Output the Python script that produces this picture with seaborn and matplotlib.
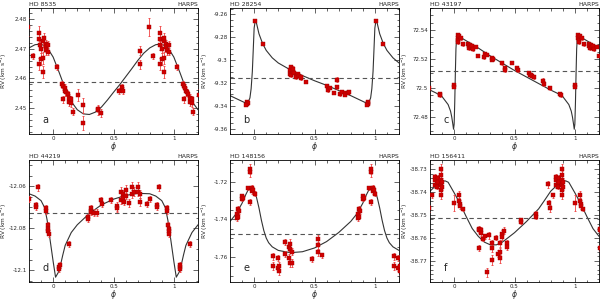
import numpy as np
import matplotlib
matplotlib.use("Agg")
from matplotlib import pyplot as plt
from matplotlib.ticker import MultipleLocator, FuncFormatter
import seaborn as sns

# ---- panel a : HD 8535 ----
a_phase = [0.03, 0.076, 0.08, 0.08, 0.095, 0.097, 0.108, 0.12, 0.135, 0.135, 0.149, 0.149,
           0.162, 0.21, 0.25, 0.25, 0.37, 0.372, 0.40, 0.546, 0.573, 0.575, 0.72, 0.72,
           0.79, 0.83, 0.884, 0.886, 0.884, 0.888, 0.90, 0.90, 0.918, 0.918, 0.92, 0.922,
           0.938, 0.938, 0.94, 0.958, 0.96]
a_rv = [2.4639, 2.4580, 2.4573, 2.4530, 2.4568, 2.4557, 2.4553, 2.4548, 2.4521, 2.4535, 2.4517, 2.4530,
        2.4487, 2.4543, 2.4509, 2.4449, 2.4492, 2.4498, 2.4483, 2.4558, 2.4570, 2.4558, 2.4693, 2.4648,
        2.4773, 2.4675, 2.4753, 2.4732, 2.4650, 2.4712, 2.4700, 2.4665, 2.4725, 2.4622, 2.4670, 2.4735,
        2.4715, 2.4705, 2.4695, 2.4712, 2.4690]
a_err = [0.0010, 0.0012, 0.0012, 0.0012, 0.0012, 0.0015, 0.0012, 0.0010, 0.0015, 0.0012, 0.0015, 0.0010,
         0.0012, 0.0020, 0.0025, 0.0025, 0.0015, 0.0012, 0.0015, 0.0010, 0.0012, 0.0012, 0.0015, 0.0015,
         0.0030, 0.0010, 0.0025, 0.0020, 0.0020, 0.0015, 0.0015, 0.0020, 0.0020, 0.0020, 0.0020, 0.0020,
         0.0015, 0.0015, 0.0015, 0.0015, 0.0012]
a_fit_phase = [0.0, 0.05, 0.1, 0.15, 0.2, 0.25, 0.3, 0.35, 0.4, 0.45, 0.5, 0.55, 0.6, 0.65, 0.7,
               0.75, 0.8, 0.85, 0.9, 0.95]
a_fit_rv = [2.4672, 2.4620, 2.4565, 2.4522, 2.4494, 2.4480, 2.4478, 2.4486, 2.4503, 2.4527, 2.4553,
            2.4578, 2.4605, 2.4632, 2.4660, 2.4685, 2.4703, 2.4714, 2.4716, 2.4705]
a_gamma = 2.4588

# ---- panel b : HD 28254 ----
b_phase = [0.94, 0.94, 0.945, 0.935, 0.01, 0.07, 0.30, 0.30, 0.302, 0.305, 0.32, 0.325, 0.33, 0.345,
           0.35, 0.36, 0.375, 0.385, 0.39, 0.43, 0.60, 0.61, 0.63, 0.66, 0.685, 0.687, 0.71, 0.73,
           0.75, 0.755, 0.775, 0.785]
b_rv = [-9.3365, -9.3385, -9.3375, -9.3390, -9.2655, -9.2860, -9.3090, -9.3120, -9.3060, -9.3130,
        -9.3100, -9.3075, -9.3110, -9.3135, -9.3150, -9.3125, -9.3140, -9.3160, -9.3150, -9.3190,
        -9.3225, -9.3265, -9.3240, -9.3290, -9.3170, -9.3235, -9.3300, -9.3275, -9.3290, -9.3305,
        -9.3285, -9.3280]
b_err = [0.0010, 0.0010, 0.0010, 0.0010, 0.0012, 0.0010, 0.0020, 0.0015, 0.0020, 0.0015, 0.0015,
         0.0020, 0.0012, 0.0015, 0.0012, 0.0015, 0.0012, 0.0012, 0.0012, 0.0010, 0.0012, 0.0012,
         0.0010, 0.0010, 0.0020, 0.0015, 0.0010, 0.0012, 0.0012, 0.0010, 0.0010, 0.0010]
b_fit_phase = [0.0, 0.01, 0.02, 0.04, 0.07, 0.1, 0.15, 0.2, 0.3, 0.4, 0.5, 0.6, 0.7, 0.8, 0.88,
               0.93, 0.95, 0.965, 0.975, 0.985, 0.993]
b_fit_rv = [-9.272, -9.265, -9.268, -9.277, -9.2855, -9.2915, -9.298, -9.3025, -9.3085, -9.3135,
            -9.318, -9.322, -9.3265, -9.331, -9.335, -9.3375, -9.337, -9.333, -9.325, -9.310, -9.290]
b_gamma = -9.316

# ---- panel c : HD 43197 ----
c_phase = [0.88, 0.882, 0.0, 0.002, 0.03, 0.03, 0.032, 0.035, 0.04, 0.06, 0.075, 0.115, 0.12, 0.125,
           0.13, 0.14, 0.15, 0.155, 0.18, 0.2, 0.25, 0.255, 0.27, 0.31, 0.315, 0.325, 0.40, 0.42,
           0.425, 0.48, 0.52, 0.53, 0.62, 0.63, 0.64, 0.645, 0.66, 0.74, 0.745, 0.79]
c_rv = [72.4956, 72.4948, 72.5018, 72.5008, 72.5367, 72.5345, 72.5330, 72.5315, 72.5360, 72.5345,
        72.5300, 72.5300, 72.5290, 72.5275, 72.5295, 72.5285, 72.5287, 72.5268, 72.5282, 72.5220,
        72.5210, 72.5232, 72.5228, 72.5205, 72.5195, 72.5198, 72.5170, 72.5135, 72.5125, 72.5175,
        72.5135, 72.5122, 72.5100, 72.5092, 72.5090, 72.5080, 72.5075, 72.5046, 72.5030, 72.5000]
c_err = [0.0010, 0.0010, 0.0012, 0.0010, 0.0015, 0.0015, 0.0015, 0.0015, 0.0012, 0.0012, 0.0012,
         0.0012, 0.0012, 0.0015, 0.0012, 0.0012, 0.0012, 0.0012, 0.0010, 0.0010, 0.0010, 0.0012,
         0.0010, 0.0012, 0.0010, 0.0010, 0.0010, 0.0012, 0.0012, 0.0012, 0.0010, 0.0010, 0.0012,
         0.0012, 0.0010, 0.0012, 0.0012, 0.0025, 0.0020, 0.0012]
c_fit_phase = [0.0, 0.005, 0.01, 0.015, 0.02, 0.03, 0.1, 0.2, 0.3, 0.4, 0.5, 0.6, 0.7, 0.8, 0.85,
               0.9, 0.95, 0.97, 0.98, 0.99, 0.995]
c_fit_rv = [72.475, 72.490, 72.510, 72.527, 72.534, 72.536, 72.5325, 72.5275, 72.522, 72.517,
            72.512, 72.5075, 72.503, 72.4985, 72.4965, 72.494, 72.4885, 72.484, 72.480, 72.4745,
            72.4715]
c_gamma = 72.5116

# ---- panel d : HD 44219 ----
d_phase = [0.86, 0.862, 0.875, 0.94, 0.942, 0.955, 0.957, 0.96, 0.962, 0.05, 0.052, 0.055, 0.13,
           0.29, 0.292, 0.31, 0.312, 0.315, 0.34, 0.36, 0.40, 0.402, 0.48, 0.53, 0.532, 0.56,
           0.562, 0.58, 0.582, 0.585, 0.60, 0.602, 0.63, 0.65, 0.652, 0.67, 0.70, 0.702, 0.72,
           0.722, 0.78, 0.80]
d_rv = [-12.0690, -12.0698, -12.0605, -12.0705, -12.0715, -12.0785, -12.0805, -12.0815, -12.0825,
        -12.0985, -12.0995, -12.0975, -12.0875, -12.0745, -12.0755, -12.0705, -12.0715, -12.0720,
        -12.0725, -12.0725, -12.0665, -12.0685, -12.0665, -12.0695, -12.0705, -12.0625, -12.0665,
        -12.0635, -12.0655, -12.0675, -12.0615, -12.0645, -12.0680, -12.0605, -12.0635, -12.0625,
        -12.0625, -12.0605, -12.0635, -12.0675, -12.0685, -12.0660]
d_err = [0.0015, 0.0015, 0.0015, 0.0015, 0.0015, 0.0015, 0.0015, 0.0015, 0.0015, 0.0015, 0.0015,
         0.0015, 0.0015, 0.0015, 0.0015, 0.0015, 0.0015, 0.0015, 0.0015, 0.0015, 0.0015, 0.0015,
         0.0015, 0.0020, 0.0015, 0.0020, 0.0020, 0.0020, 0.0015, 0.0015, 0.0020, 0.0015, 0.0020,
         0.0025, 0.0020, 0.0020, 0.0020, 0.0025, 0.0020, 0.0020, 0.0015, 0.0015]
d_fit_phase = [0.0, 0.02, 0.05, 0.08, 0.1, 0.15, 0.2, 0.3, 0.4, 0.5, 0.6, 0.7, 0.8, 0.85, 0.9,
               0.93, 0.95, 0.97]
d_fit_rv = [-12.0958, -12.1033, -12.1003, -12.0927, -12.0881, -12.0820, -12.0783, -12.0729,
            -12.0688, -12.0661, -12.0643, -12.0633, -12.0635, -12.0646, -12.0668, -12.0702,
            -12.0760, -12.0836]
d_gamma = -12.0729

# ---- panel e : HD 148156 ----
e_phase = [0.857, 0.857, 0.87, 0.87, 0.878, 0.90, 0.90, 0.91, 0.95, 0.965, 0.965, 0.965, 0.985,
           0.985, 0.99, 0.005, 0.16, 0.16, 0.195, 0.195, 0.21, 0.21, 0.255, 0.255, 0.285, 0.285,
           0.295, 0.295, 0.295, 0.31, 0.31, 0.48, 0.53, 0.53, 0.53, 0.56]
e_rv = [-1.7370, -1.7395, -1.7344, -1.7386, -1.7355, -1.7276, -1.7293, -1.7285, -1.7234, -1.7132,
        -1.7149, -1.7310, -1.7234, -1.7250, -1.7243, -1.7264, -1.7598, -1.7649, -1.7607, -1.7658,
        -1.7675, -1.7650, -1.7522, -1.7585, -1.7607, -1.7547, -1.7530, -1.7556, -1.7634, -1.7573,
        -1.7634, -1.7612, -1.7505, -1.7539, -1.7576, -1.7593]
e_err = [0.0015, 0.0015, 0.0015, 0.0015, 0.0015, 0.0012, 0.0012, 0.0012, 0.0012, 0.0025, 0.0025,
         0.0015, 0.0015, 0.0015, 0.0012, 0.0012, 0.0020, 0.0020, 0.0015, 0.0015, 0.0020, 0.0020,
         0.0015, 0.0015, 0.0020, 0.0020, 0.0025, 0.0020, 0.0020, 0.0020, 0.0020, 0.0015, 0.0020,
         0.0020, 0.0020, 0.0015]
e_fit_phase = [0.0, 0.02, 0.04, 0.06, 0.08, 0.1, 0.12, 0.15, 0.2, 0.3, 0.4, 0.5, 0.6, 0.7, 0.8,
               0.85, 0.9, 0.93, 0.96, 0.975, 0.99]
e_fit_rv = [-1.7245, -1.7285, -1.7340, -1.7405, -1.7460, -1.7500, -1.7525, -1.7547, -1.7566,
            -1.7578, -1.7573, -1.7553, -1.7519, -1.7471, -1.7412, -1.7372, -1.7315, -1.7270,
            -1.7232, -1.7225, -1.7232]
e_gamma = -1.748

# ---- panel f : HD 156411 ----
f_phase = [0.845, 0.845, 0.845, 0.857, 0.857, 0.87, 0.87, 0.89, 0.89, 0.89, 0.89, 0.89, 0.89,
           0.90, 0.90, 0.0, 0.04, 0.04, 0.05, 0.05, 0.07, 0.21, 0.21, 0.21, 0.22, 0.22, 0.235,
           0.257, 0.275, 0.29, 0.31, 0.31, 0.315, 0.343, 0.362, 0.376, 0.376, 0.376, 0.397,
           0.397, 0.41, 0.44, 0.44, 0.55, 0.55, 0.676, 0.676, 0.776, 0.785, 0.795, 0.816]
f_rv = [-38.7335, -38.7349, -38.7369, -38.7363, -38.7377, -38.7340, -38.7356, -38.7300, -38.7328,
        -38.7349, -38.7370, -38.7391, -38.7412, -38.7356, -38.7377, -38.7447, -38.7412, -38.7440,
        -38.7451, -38.7461, -38.7474, -38.7561, -38.7568, -38.7644, -38.7568, -38.7579, -38.7604,
        -38.7594, -38.7750, -38.7590, -38.7625, -38.7646, -38.7697, -38.7600, -38.7669, -38.7625,
        -38.7660, -38.7690, -38.7583, -38.7597, -38.7569, -38.7625, -38.7639, -38.7524, -38.7531,
        -38.7497, -38.7508, -38.7367, -38.7450, -38.7472, -38.7415]
f_err = [0.0015, 0.0015, 0.0015, 0.0012, 0.0012, 0.0015, 0.0015, 0.0020, 0.0020, 0.0020, 0.0020,
         0.0020, 0.0020, 0.0015, 0.0015, 0.0035, 0.0015, 0.0015, 0.0015, 0.0015, 0.0010, 0.0012,
         0.0012, 0.0012, 0.0015, 0.0015, 0.0012, 0.0012, 0.0020, 0.0015, 0.0015, 0.0015, 0.0020,
         0.0012, 0.0015, 0.0015, 0.0015, 0.0020, 0.0015, 0.0015, 0.0015, 0.0015, 0.0015, 0.0010,
         0.0010, 0.0015, 0.0012, 0.0015, 0.0015, 0.0015, 0.0012]
f_fit_phase = [0.0, 0.05, 0.1, 0.15, 0.2, 0.25, 0.3, 0.35, 0.4, 0.5, 0.6, 0.7, 0.75, 0.8, 0.85,
               0.9, 0.925, 0.95]
f_fit_rv = [-38.7404, -38.7453, -38.7508, -38.7560, -38.7594, -38.7619, -38.7631, -38.7631,
            -38.7619, -38.7578, -38.7529, -38.7474, -38.7436, -38.7397, -38.7372, -38.7355,
            -38.7352, -38.7358]
f_gamma = -38.7513

panels = [
    ("HD 8535", "a", a_phase, a_rv, a_err, a_fit_phase, a_fit_rv, a_gamma,
     (2.4412, 2.4838), 0.01, 0.002),
    ("HD 28254", "b", b_phase, b_rv, b_err, b_fit_phase, b_fit_rv, b_gamma,
     (-9.3645, -9.2545), 0.02, 0.005),
    ("HD 43197", "c", c_phase, c_rv, c_err, c_fit_phase, c_fit_rv, c_gamma,
     (72.4682, 72.5551), 0.02, 0.005),
    ("HD 44219", "d", d_phase, d_rv, d_err, d_fit_phase, d_fit_rv, d_gamma,
     (-12.1056, -12.0474), 0.02, 0.005),
    ("HD 148156", "e", e_phase, e_rv, e_err, e_fit_phase, e_fit_rv, e_gamma,
     (-1.7734, -1.7085), 0.02, 0.005),
    ("HD 156411", "f", f_phase, f_rv, f_err, f_fit_phase, f_fit_rv, f_gamma,
     (-38.7793, -38.7261), 0.01, 0.002),
]


def fold(phase, *cols):
    # repeat points one period left and right, keep what falls inside -0.2..1.2
    phase = np.asarray(phase)
    out_p, out_c = [], [[] for _ in cols]
    for shift in (-1, 0, 1):
        p = phase + shift
        keep = (p >= -0.21) & (p <= 1.21)
        out_p.append(p[keep])
        for i, c in enumerate(cols):
            out_c[i].append(np.asarray(c)[keep])
    return [np.concatenate(out_p)] + [np.concatenate(c) for c in out_c]


sns.set_style("ticks")
plt.rcParams['font.family'] = ['DejaVu Sans']

fig = plt.figure(figsize=(6.0, 3.02), dpi=100)
W, H = 600.0, 302.0
tiles_x = [0, 200, 400]
lefts = [29, 230, 430]
rows = [(8, 134), (160, 282)]

for k, (name, letter, ph, rv, err, fph, frv, gamma, ylim, ymaj, ymin) in enumerate(panels):
    top, bot = rows[k // 3]
    left = lefts[k % 3]
    width = 169
    ax = fig.add_axes([left / W, 1 - bot / H, width / W, (bot - top) / H])

    # model curve
    fp, fr = fold(fph, frv)
    order = np.argsort(fp)
    sns.lineplot(x=fp[order], y=fr[order], ax=ax, color='#333333', lw=0.8, sort=False)
    ax.axhline(gamma, color='#555555', lw=0.8, ls=(0, (4, 3)))

    # data
    p, r, e = fold(ph, rv, err)
    ax.errorbar(p, r, yerr=e, fmt='none', ecolor='#f04040', elinewidth=0.6,
                capsize=0.8, capthick=0.6, zorder=3)
    sns.scatterplot(x=p, y=r, ax=ax, marker='s', s=6, color='#d00000',
                    edgecolor='#a00000', linewidth=0.3, zorder=4)

    ax.set_xlim(-0.2, 1.2)
    ax.set_ylim(*ylim)
    ax.xaxis.set_major_locator(MultipleLocator(0.5))
    ax.xaxis.set_minor_locator(MultipleLocator(0.1))
    ax.yaxis.set_major_locator(MultipleLocator(ymaj))
    ax.yaxis.set_minor_locator(MultipleLocator(ymin))
    ax.xaxis.set_major_formatter(FuncFormatter(lambda v, _: '%g' % round(v, 4)))
    ax.yaxis.set_major_formatter(FuncFormatter(lambda v, _: '%g' % round(v, 4)))
    ax.tick_params(which='both', direction='in', top=True, right=True, width=0.5,
                   labelsize=4.0, pad=1.5)
    ax.tick_params(which='major', length=3.5)
    ax.tick_params(which='minor', length=1.8)
    for s in ax.spines.values():
        s.set_linewidth(0.6)
        s.set_color('black')

    ax.set_xlabel(r'$\phi$', fontsize=5.5, labelpad=-0.5)
    ax.set_ylabel(r'RV (km s$^{-1}$)', fontsize=4.2)
    # y label sits near the left edge of its own tile
    ax.yaxis.set_label_coords((tiles_x[k % 3] + 9.5 - left) / width, 0.5)
    ax.text(0.0, 1.01, name, transform=ax.transAxes, fontsize=4.5, ha='left', va='bottom')
    ax.text(1.0, 1.01, 'HARPS', transform=ax.transAxes, fontsize=4.5, ha='right', va='bottom')
    ax.text(0.08, 0.07, letter, transform=ax.transAxes, fontsize=7, ha='left', va='bottom')

fig.savefig('out.png', dpi=100)
